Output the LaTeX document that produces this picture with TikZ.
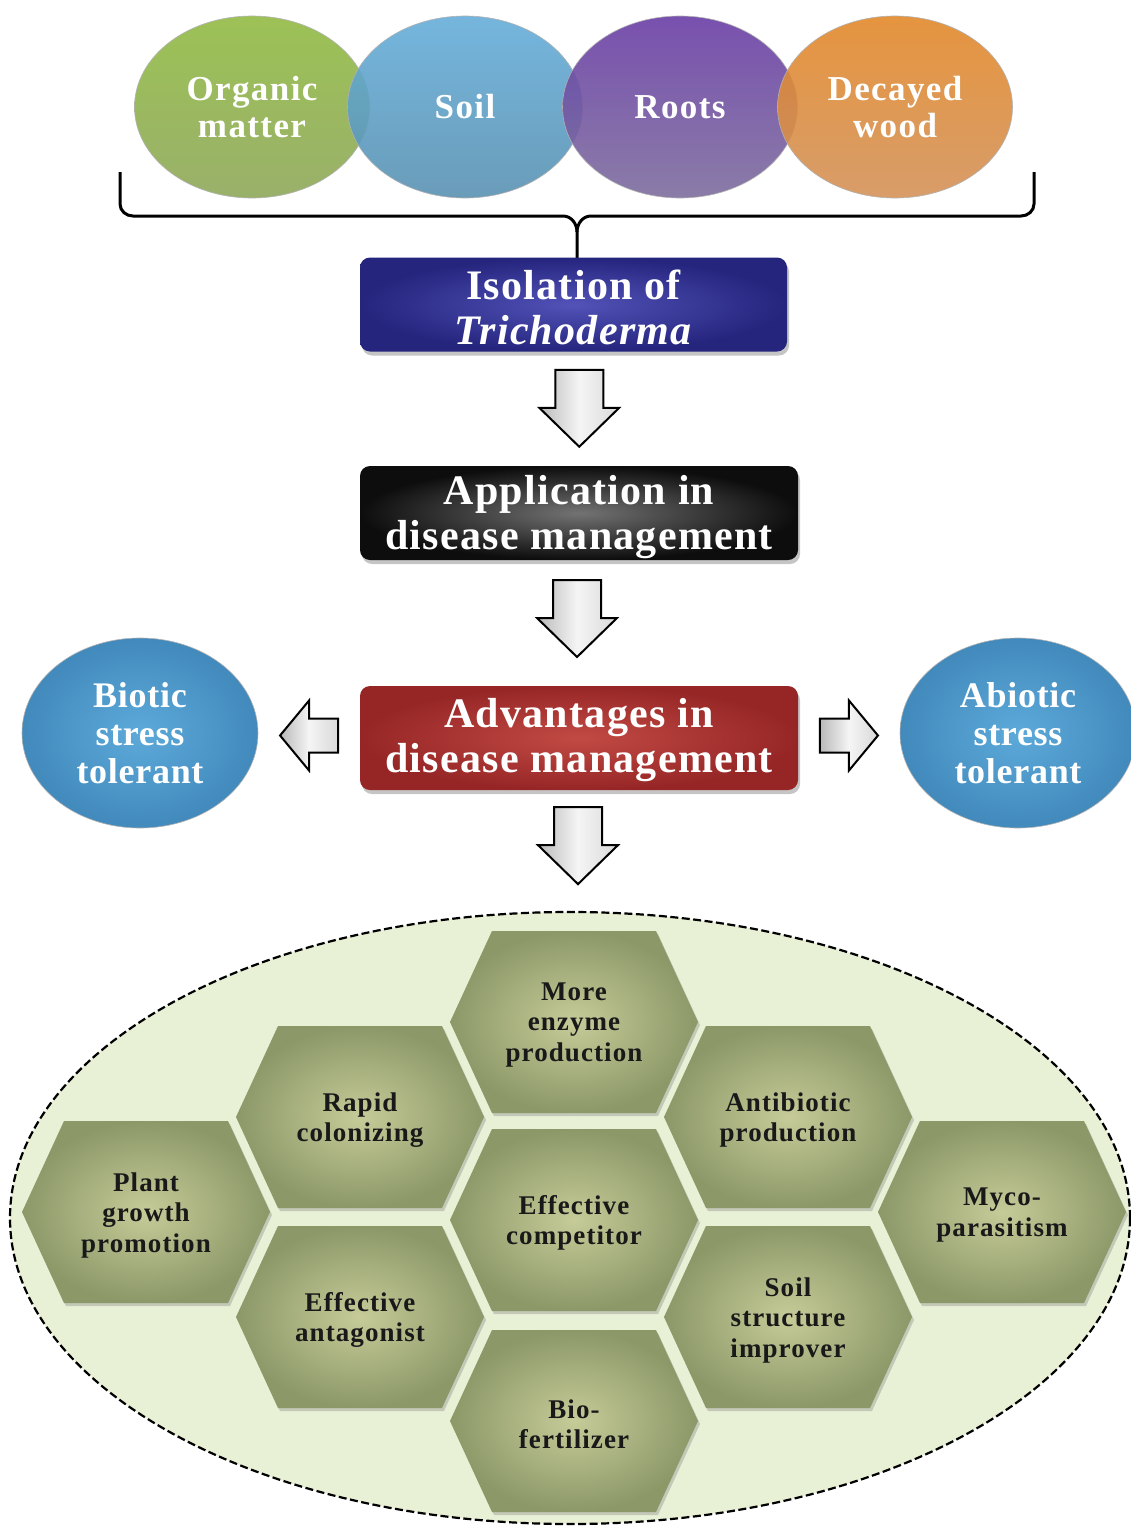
\documentclass[tikz,border=0pt]{standalone}
\usepackage{fontspec}
\setmainfont{Liberation Serif}
\usetikzlibrary{shapes.geometric,shadows,calc}
\definecolor{grn}{HTML}{8DB83A}
\definecolor{grnb}{HTML}{8FA85A}
\definecolor{sky}{HTML}{66AEDA}
\definecolor{skyb}{HTML}{5A92B2}
\definecolor{pur}{HTML}{6A3EA6}
\definecolor{purb}{HTML}{7E6E9E}
\definecolor{org}{HTML}{E3892A}
\definecolor{orgb}{HTML}{D4935A}
\definecolor{field}{HTML}{E8F0D6}
\definecolor{hexin}{HTML}{C6CB98}
\definecolor{hexout}{HTML}{8C9868}
\definecolor{isoin}{HTML}{5252B8}
\definecolor{isoout}{HTML}{25257E}
\definecolor{advin}{HTML}{C24A44}
\definecolor{advout}{HTML}{962626}
\definecolor{stin}{HTML}{5CAADA}
\definecolor{stout}{HTML}{4289BC}
\begin{document}
\begin{tikzpicture}[x=1pt,y=-1pt,
  src/.style={ellipse, minimum width=235, minimum height=182, inner sep=0,
    draw=black!30, line width=0.6, text=white, fill opacity=0.9, text opacity=1,
    font=\bfseries\fontsize{35}{37}\selectfont\addfontfeatures{LetterSpace=4}, align=center},
  flowbox/.style={rounded corners=10, minimum height=94, inner sep=0, text=white,
    font=\bfseries\fontsize{42}{45}\selectfont\addfontfeatures{LetterSpace=3}, align=center,
    drop shadow={opacity=0.45, shadow xshift=2pt, shadow yshift=-4pt}},
  flowtext/.style={text=white, inner sep=0,
    font=\bfseries\fontsize{42}{45}\selectfont\addfontfeatures{LetterSpace=3}, align=center},
  stressell/.style={ellipse, minimum width=236, minimum height=190, inner sep=0,
    draw=black!30, line width=0.6, shading=radial, inner color=stin, outer color=stout,
    text=white, font=\bfseries\fontsize{36}{38}\selectfont\addfontfeatures{LetterSpace=2}, align=center},
  hexshape/.style={shading=radial, inner color=hexin, outer color=hexout,
    drop shadow={opacity=0.35, shadow xshift=2pt, shadow yshift=-3pt}},
  hextext/.style={text=black!90, font=\bfseries\fontsize{27}{30.5}\selectfont\addfontfeatures{LetterSpace=4}, align=center, inner sep=0},
  blockarr/.style={draw=black, line width=2, line join=miter, left color=gray!55, right color=gray!30, middle color=gray!8},
  darr/.pic={\path[blockarr] (-24,-39) -- (24,-39) -- (24,-1) -- (40,-1) -- (0,38) -- (-40,-1) -- (-24,-1) -- cycle;},
  larr/.pic={\path[blockarr] (-29,0) -- (0,-35) -- (0,-17) -- (29,-17) -- (29,17) -- (0,17) -- (0,35) -- cycle;}
]
\useasboundingbox (0,0) rectangle (1130,1526);
\fill[white] (0,0) rectangle (1130,1526);

% sources
\node[src, top color=grn!95!white, bottom color=grnb] (om) at (252,107) {Organic\\matter};
\node[src, top color=sky, bottom color=skyb] (soil) at (465,107) {Soil};
\node[src, top color=pur, bottom color=purb] (roots) at (680,107) {Roots};
\node[src, top color=org, bottom color=orgb] (wood) at (895,107) {Decayed\\wood};

% brace
\coordinate (bl) at (120,172);
\coordinate (br) at (1034,172);
\coordinate (btip) at (577,258);
\draw[line width=3] (bl) -- (120,204) to[out=-90,in=180] (133,216) -- (563,216) to[out=0,in=90] (577,232) -- (btip);
\draw[line width=3] (br) -- (1034,204) to[out=-90,in=0] (1021,216) -- (591,216) to[out=180,in=90] (577,232);

% flow boxes
\node[flowbox, minimum width=427, shading=radial, inner color=isoin, outer color=isoout] (iso) at (573.5,304.5) {};
\node[flowtext] (isot) at ($(iso.center)+(0,3)$) {Isolation of\\\textit{Trichoderma}};
\node[flowbox, minimum width=438, shading=radial, inner color=black!55, outer color=black!95] (app) at (579,513) {};
\node[flowtext] (appt) at ($(app.center)+(0,4)$) {Application in\\disease management};
\node[flowbox, minimum width=438, minimum height=104, shading=radial, inner color=advin, outer color=advout] (adv) at (579,738) {};
\node[flowtext] (advt) at ($(adv.center)+(0,2)$) {Advantages in\\disease management};

\node[stressell] (bio) at (140,733) {Biotic\\stress\\tolerant};
\node[stressell] (abio) at (1018,733) {Abiotic\\stress\\tolerant};

% arrows
\pic at ($(iso.south)!0.5!(app.north)+(3,0)$) {darr};
\pic at ($(app.south)!0.5!(adv.north)+(-2,-4)$) {darr};
\pic at ($(adv.south)!0.5!(577,912)+(0,-5)$) {darr};
\pic at ($(bio.east)!0.5!(adv.west)$) {larr};
\pic[xscale=-1] at ($(adv.east)!0.5!(abio.west)$) {larr};

% field
\node[ellipse, minimum width=1120, minimum height=612, inner sep=0, fill=field,
  draw=black, line width=2.2, dash pattern=on 8pt off 3.5pt] (fieldell) at (570,1218) {};

% hexagons
\foreach \n/\x/\y/\t in {
  more/574/1022/{More\\enzyme\\production},
  rapid/360/1117/{Rapid\\colonizing},
  anti/788/1117/{Antibiotic\\production},
  plant/146/1212/{Plant\\growth\\promotion},
  comp/574/1220/{Effective\\competitor},
  myco/1002/1212/{Myco-\\parasitism},
  antag/360/1317/{Effective\\antagonist},
  soilimp/788/1317/{Soil\\structure\\improver},
  biof/574/1421/{Bio-\\fertilizer}} {
  \path[hexshape] (\x-124,\y) -- (\x-82,\y-91) -- (\x+82,\y-91) -- (\x+124,\y) -- (\x+82,\y+91) -- (\x-82,\y+91) -- cycle;
  \node[hextext] (\n) at (\x,\y+3) {\t};
}
\end{tikzpicture}
\end{document}
